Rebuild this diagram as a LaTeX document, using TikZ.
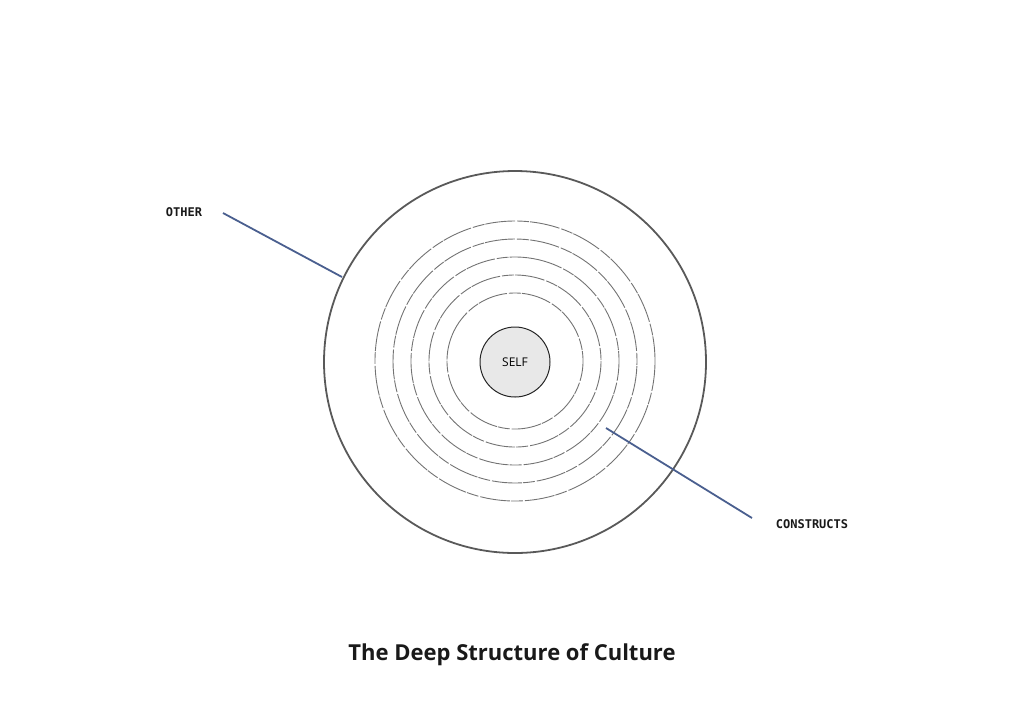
\documentclass[tikz,border=0pt]{standalone}
\usepackage{fontspec}
\setmainfont{Open Sans}
\newfontfamily\labfont{DejaVu Sans Mono}
\begin{document}
\begin{tikzpicture}[x=1pt,y=-1pt,
  ring/.style={draw=black!55,line width=0.9pt,dash pattern=on 30pt off 2pt on 12pt off 1pt},
  lead/.style={draw={rgb,255:red,74;green,95;blue,143},line width=1.8pt},
  lab/.style={font=\labfont\bfseries\fontsize{12}{14}\selectfont,text=black!90}]
\useasboundingbox (0,0) rectangle (1024,724);
\node[circle,draw=black!65,line width=1.8pt,minimum size=382pt,inner sep=0] (outer) at (515,362) {};
\foreach \r/\o in {140/0,122/40,104/80,86/120,68/160}
  \draw[ring,rotate around={\o:(515,361)}] (515,361) circle (\r);
\node[circle,draw=black!85,fill=black!9,line width=1pt,minimum size=70pt,inner sep=0,font=\fontsize{12}{14}\selectfont] (self) at (515,362) {SELF};
\node[lab] (other) at (184,212) {OTHER};
\node[lab] (cons) at (812,524) {CONSTRUCTS};
\coordinate (o1) at (223,213);
\coordinate (o2) at (342,277);
\coordinate (c1) at (606,428);
\coordinate (c2) at (752,518);
\draw[lead] (o1) -- (o2);
\draw[lead] (c1) -- (c2);
\node[font=\bfseries\fontsize{22}{26}\selectfont,text=black!90] (title) at (512,655) {The Deep Structure of Culture};
\end{tikzpicture}
\end{document}
